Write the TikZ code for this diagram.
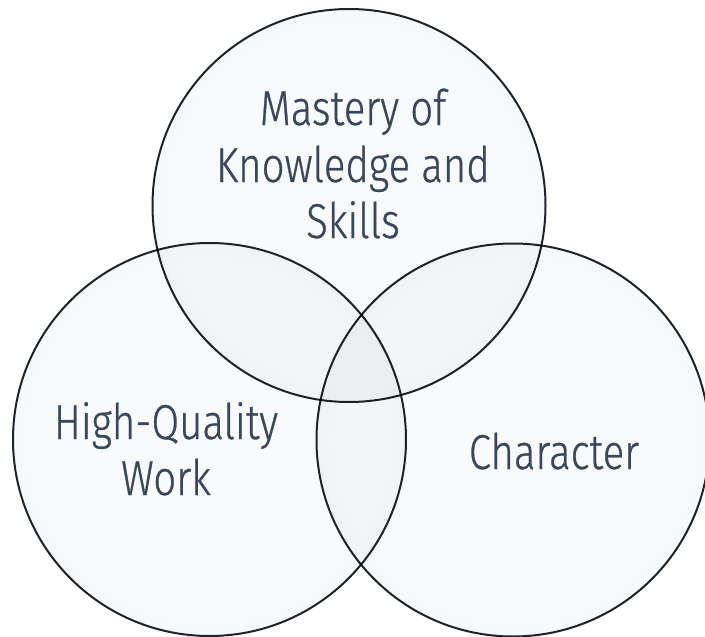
\documentclass[tikz,border=0pt]{standalone}
\usepackage{fontspec}
\newfontfamily\labelfont[FakeStretch=0.82,FakeBold=0.6]{Fira Sans Light}

% colours of the glass discs and the labels
\definecolor{ink}{HTML}{3A475B}
\definecolor{rim}{HTML}{202428}
\definecolor{g0}{HTML}{F9FAFB}
\definecolor{g1}{HTML}{F1F4F6}
\definecolor{g2}{HTML}{E3E9EC}
\definecolor{g3}{HTML}{D0D9DF}
\definecolor{g4}{HTML}{B9C6CE}
\definecolor{g5}{HTML}{E6ECEF}

% glassy radial fill: pale centre, blue-grey band towards the rim
\pgfdeclareradialshading{glass}{\pgfpoint{0bp}{0bp}}{%
  color(0bp)=(g0); color(22bp)=(g0); color(35bp)=(g1);
  color(43bp)=(g2); color(47bp)=(g3); color(48.8bp)=(g4);
  color(49.4bp)=(g5); color(50bp)=(g4)}

\tikzset{
  glassdisc/.style={circle, inner sep=0pt, minimum size=393pt,
    shade, shading=glass, draw=rim, line width=2pt},
  label/.style={anchor=base, inner sep=0pt, text=ink,
    font=\labelfont\fontsize{49}{49}\selectfont}
}

\begin{document}
\begin{tikzpicture}[x=1pt,y=-1pt]
  \useasboundingbox (0,0) rectangle (705,637);
  \clip (0,0) rectangle (705,637);
  \fill[white] (0,0) rectangle (705,637);

  % the three overlapping discs; multiply darkens the overlaps
  \begin{scope}[blend mode=multiply]
    \node[glassdisc] (mastery)   at (349,205.5) {};
    \node[glassdisc] (quality)   at (209.5,439.5) {};
    \node[glassdisc] (character) at (513,440) {};
  \end{scope}

  % labels
  \node[label] (m1) at (353,125) {Mastery of};
  \node[label] (m2) at (353,182) {Knowledge and};
  \node[label] (m3) at (353,238) {Skills};
  \node[label] (q1) at (166,439) {High-Quality};
  \node[label] (q2) at (166,495) {Work};
  \node[label] (c1) at (554,469) {Character};
\end{tikzpicture}
\end{document}
